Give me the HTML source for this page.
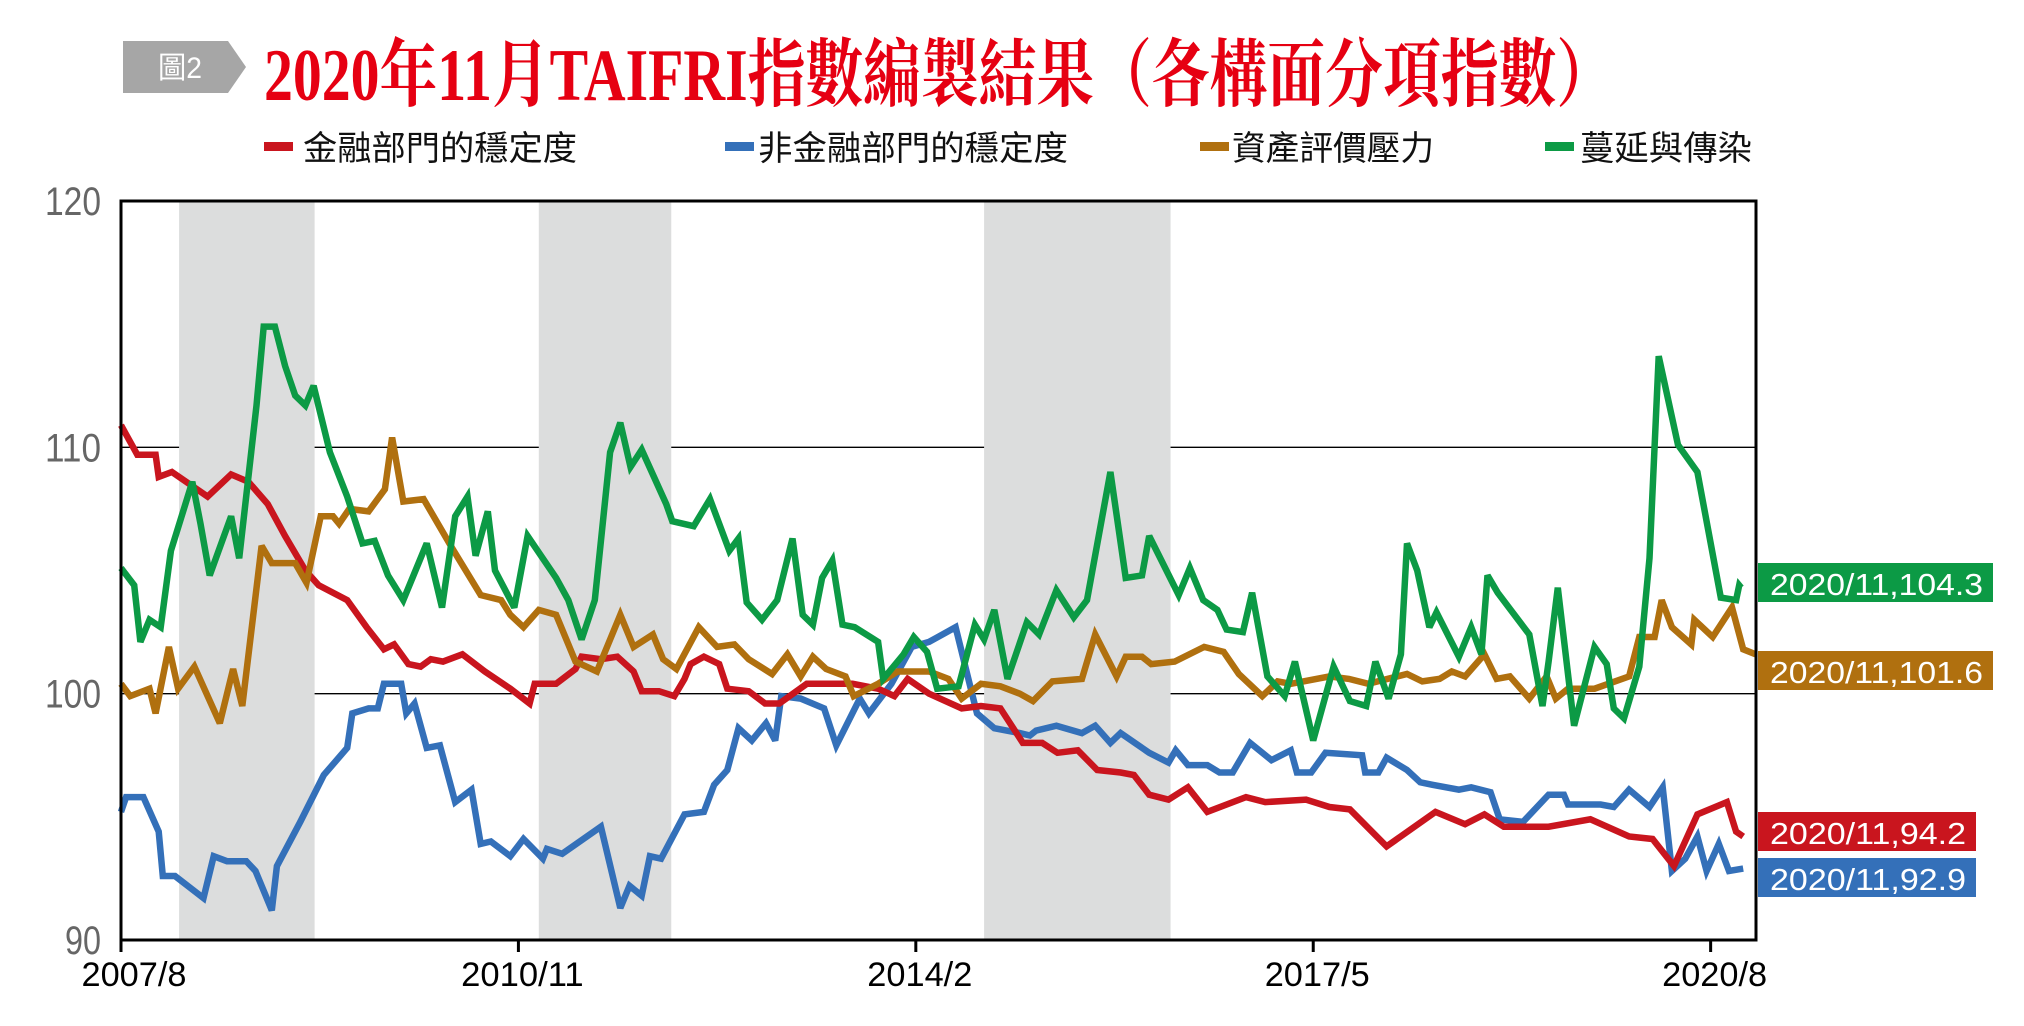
<!DOCTYPE html>
<html><head><meta charset="utf-8">
<style>
html,body{margin:0;padding:0;background:#fff;}
svg{display:block;}
</style></head>
<body>
<svg id="chart" width="2024" height="1026" viewBox="0 0 2024 1026" xmlns="http://www.w3.org/2000/svg">
  <g>
    <polygon points="123,41 228,41 246,67 228,93 123,93" fill="#a6a6a6"/>
    <text x="180" y="78" font-family="'Liberation Sans','Noto Sans CJK TC',sans-serif" font-size="30" fill="#fff" text-anchor="middle" textLength="44" lengthAdjust="spacingAndGlyphs">圖2</text>
  </g>
  <text x="264" y="100" font-family="'Liberation Serif','Noto Serif CJK SC',serif" font-weight="bold" font-size="74" fill="#e60012" textLength="1350" lengthAdjust="spacingAndGlyphs">2020年11月TAIFRI指數編製結果（各構面分項指數）</text>
  <g id="legend" font-family="'Liberation Sans','Noto Sans CJK TC',sans-serif" font-size="34" fill="#111"></g>
  <g id="plot"></g>
</svg>
<script>
const months = {
 red:[0,1.6,3.4,3.7,5,8.5,10.8,12.5,14.4,16.1,18.1,19.4,22.2,24.1,25.8,26.8,28.2,29.4,30.4,31.6,33.5,35.7,38.2,40.1,40.6,42.7,44.6,45.2,47.1,48.7,50.3,51.1,52.8,54.3,55.3,55.9,57.2,58.7,59.5,61.6,63.2,64.6,67.3,71.8,74.3,75.9,77.2,79.3,82.5,84.4,86.3,88.5,90.4,91.9,93.9,95.8,98.1,99.4,100.9,102.8,104.7,106.6,110.4,112.3,116.3,118.6,120.6,124.2,129,131.9,133.8,135.7,140.1,144.2,148,150.3,152.4,154.7,157.6,158.5,159.2],
 blue:[0,0.5,2.2,3.7,4.1,5.3,8.1,9.1,10.4,12.3,13.2,14.8,15.3,17.6,19.9,22.2,22.7,24.3,25.2,25.8,27.5,28,28.8,30,31.3,32.8,34.4,35.3,36.3,38.2,39.5,41.4,41.8,43.3,47.1,49,49.9,51.1,51.9,53,55.3,57.2,58.2,59.5,60.6,61.9,63.3,64.2,64.8,66.7,69,70.2,72.5,73.4,75.6,77.6,79.3,81.9,83.4,84,85.7,88.2,89.2,89.8,91.8,94.3,95.6,97.1,98.1,100.9,102.8,103.5,104.7,106.6,107.8,109.1,110.8,112.9,114.8,115.4,116.8,118.2,121.8,122.1,123.4,124.2,126.2,127.5,128.7,131.3,132.5,134.4,135.3,137.6,140.1,141.6,142,145.2,146.5,148,150,151.3,152.2,153.5,154.7,155.6,156.8,157.8,159.2],
 gold:[0,0.9,2.8,3.4,4.7,5.6,7.2,9.7,11,11.9,13.8,14.8,17.1,18.2,19.6,20.8,21.4,22.4,24.3,25.9,26.6,27.7,29.7,32.5,35.3,37.3,38.2,39.5,41,42.7,44.6,46.7,49,50.3,52.2,53.2,54.5,56.7,58.5,60.2,61.6,63.9,65.4,66.7,67.9,69.2,71.1,71.9,74.3,76.2,79.3,81.2,82.5,84.4,86.3,88.2,89.5,91.4,94.3,95.6,97.7,98.6,100.2,101.1,103.4,106.3,108.2,109.7,112,113.5,114.8,118.6,120.5,122.4,126.2,127.7,129.4,130.6,131.9,133.8,135,136.3,138.2,139.9,140.8,142,144.6,148,149,150.5,151.2,152.2,154.1,154.4,156.2,158.1,159.2,160.4],
 green:[0,1.3,1.9,2.8,3.9,4.9,7,7.8,8.7,10.8,11.6,13.3,14,15.1,16.1,17.1,18.1,18.9,20.5,22.2,23.7,24.9,26.2,27.7,30,31.5,32.8,34,34.8,36,36.7,38.6,39.9,42.7,43.9,45.2,46.5,48,49,50,51.1,53.5,54.1,56.2,57.8,59.7,60.6,61.4,62.9,64.4,65.9,66.9,67.9,68.8,69.8,70.8,72,74.3,74.8,76.8,77.8,79.1,80.1,82.2,83.8,84.7,85.7,87,88.9,90.1,91.8,93.5,94.8,97.1,98.6,100.2,100.9,103.8,104.9,106.2,107.6,108.5,110.1,111,112.5,114.2,115.2,117,119,120.6,122.2,123.1,124.4,125.6,126.2,127.2,128.4,129.1,131.3,132.5,133.5,134.1,135.1,138.2,139.5,140.1,141,142.6,144.6,145.8,146.5,147.5,149,150,150.9,152.8,154.7,157,158.5,158.8,159]
};
const redValues=[110.9,109.7,109.7,108.8,109,108,108.9,108.6,107.7,106.4,105,104.4,103.8,102.7,101.8,102,101.2,101.1,101.4,101.3,101.6,100.9,100.2,99.6,100.4,100.4,101,101.5,101.4,101.5,100.9,100.1,100.1,99.9,100.6,101.2,101.5,101.2,100.2,100.1,99.6,99.6,100.4,100.4,100.2,99.9,100.6,100,99.4,99.5,99.4,98,98,97.6,97.7,96.9,96.8,96.7,95.9,95.7,96.2,95.2,95.8,95.6,95.7,95.4,95.3,93.8,95.2,94.7,95.1,94.6,94.6,94.9,94.2,94.1,93,95.1,95.6,94.4,94.2];
const blueValues=[95.2,95.8,95.8,94.4,92.6,92.6,91.7,93.4,93.2,93.2,92.8,91.2,93,94.8,96.7,97.8,99.2,99.4,99.4,100.4,100.4,99.2,99.6,97.8,97.9,95.6,96.1,93.9,94,93.4,94.1,93.3,93.7,93.5,94.6,91.3,92.2,91.8,93.4,93.3,95.1,95.2,96.3,96.9,98.6,98.1,98.8,98.1,99.9,99.8,99.4,97.9,99.8,99.2,100.4,101.9,102.1,102.7,100.2,99.2,98.6,98.4,98.3,98.5,98.7,98.4,98.7,98,98.4,97.6,97.2,97.7,97.1,97.1,96.8,96.8,98,97.3,97.7,96.8,96.8,97.6,97.5,96.8,96.8,97.4,96.9,96.4,96.3,96.1,96.2,96,94.9,94.8,95.9,95.9,95.5,95.5,95.4,96.1,95.4,96.2,92.8,93.3,94.2,92.8,93.9,92.8,92.9];
const goldValues=[100.4,99.9,100.2,99.2,101.9,100.2,101.1,98.8,101,99.5,106,105.3,105.3,104.5,107.2,107.2,106.9,107.5,107.4,108.3,110.4,107.8,107.9,105.9,104,103.8,103.2,102.7,103.4,103.2,101.3,100.9,103.2,101.9,102.4,101.4,101,102.7,101.9,102,101.4,100.8,101.6,100.7,101.5,101,100.7,99.9,100.4,100.9,100.9,100.6,99.8,100.4,100.3,100,99.7,100.5,100.6,102.4,100.7,101.5,101.5,101.2,101.3,101.9,101.7,100.8,99.9,100.5,100.4,100.7,100.6,100.4,100.8,100.5,100.6,100.9,100.7,101.6,100.6,100.7,99.8,100.7,99.8,100.2,100.2,100.7,102.3,102.3,103.8,102.7,102,103,102.3,103.5,101.8,101.6];
const greenValues=[105.1,104.4,102.1,103,102.7,105.8,108.6,106.9,104.8,107.2,105.5,111.7,114.9,114.9,113.3,112.1,111.7,112.5,109.8,108,106.1,106.2,104.8,103.8,106.1,103.5,107.2,108,105.6,107.4,105,103.5,106.4,104.7,103.8,102.2,103.8,109.8,111,109.2,109.9,107.7,107,106.8,107.9,105.8,106.3,103.7,103,103.8,106.3,103.2,102.8,104.7,105.4,102.8,102.7,102.1,100.6,101.6,102.3,101.7,100.2,100.3,102.8,102.2,103.4,100.6,102.9,102.4,104.2,103.1,103.8,109,104.7,104.8,106.4,104,105.1,103.8,103.4,102.6,102.5,104.1,100.7,99.9,101.3,98.1,101.1,99.7,99.5,101.3,99.8,101.6,106.1,105,102.7,103.3,101.5,102.7,101.6,104.8,104.1,102.4,99.5,101.3,104.3,98.7,101.9,101.2,99.4,99,101.1,105.5,113.7,110.1,109,103.9,103.8,104.4,104.3];
const yTicks=[90,100,110,120];
const xTickMonths=[0,39,78,117,156];
const xTickLabels=["2007/8","2010/11","2014/2","2017/5","2020/8"];
const recessions=[[5.7,19],[41,54],[84.7,103]];
const seriesNames=["金融部門的穩定度","非金融部門的穩定度","資產評價壓力","蔓延與傳染"];
const endLabels=["2020/11,94.2","2020/11,92.9","2020/11,101.6","2020/11,104.3"];

const NS="http://www.w3.org/2000/svg";
const L=121,R=1756,T=201,B=940;
const X=m=>L+m*10.19;
const Y=v=>B-(v-90)*(B-T)/30;
function mk(tag,attrs,parent){const e=document.createElementNS(NS,tag);for(const k in attrs)e.setAttribute(k,attrs[k]);parent.appendChild(e);return e;}
const plot=document.getElementById('plot');
const font="'Liberation Sans','Noto Sans CJK TC',sans-serif";

[100,110].forEach(v=>{
  const g=mk('line',{x1:L,x2:R,y1:Y(v),y2:Y(v),stroke:'#000','stroke-width':1.3},plot);
  
  
});
recessions.forEach((r,i)=>{
  const b=mk('rect',{x:X(r[0]),y:T,width:X(r[1])-X(r[0]),height:B-T,fill:'#dcdddd'},plot);
  
  
});
yTicks.forEach(v=>{
  const t=mk('text',{x:101,y:Y(v)+14,'text-anchor':'end','font-family':font,'font-size':40,fill:'#666',textLength:(v>=100?56:36),lengthAdjust:'spacingAndGlyphs'},plot);
  t.textContent=v;
  
  
});
xTickMonths.forEach((m,i)=>{
  const tk=mk('line',{x1:X(m),x2:X(m),y1:B,y2:B+12,stroke:'#000','stroke-width':3},plot);
  
  
  const lab=xTickLabels[i];
  const cx=i===0?X(m)+13:X(m)+4;
  const t=mk('text',{x:cx,y:986,'text-anchor':'middle','font-family':font,'font-size':34,fill:'#000',textLength:lab.length*17.5,lengthAdjust:'spacingAndGlyphs'},plot);
  t.textContent=lab;
  
  
});
const colors=['#c9151e','#3470b9','#b0700f','#0c9a45'];
const seriesM=[months.red,months.blue,months.gold,months.green];
const seriesV=[redValues,blueValues,goldValues,greenValues];
const drawOrder=[1,0,2,3];
drawOrder.forEach(s=>{
  const d=seriesM[s].map((m,i)=>(i?'L':'M')+X(m).toFixed(1)+','+Y(seriesV[s][i]).toFixed(1)).join(' ');
  const p=mk('path',{d:d,fill:'none',stroke:colors[s],'stroke-width':6.5,'stroke-linejoin':'miter','stroke-miterlimit':3},plot);
  
  
});
const ax=mk('path',{d:`M${L},${T} L${R},${T} L${R},${B} L${L},${B} Z`,fill:'none',stroke:'#000','stroke-width':3},plot);


const boxY=[812,858,651,563];
const boxW=[218,218,235,235];
[3,2,0,1].forEach(s=>{
  const g=mk('g',{},plot);
  
  
  mk('rect',{x:1758,y:boxY[s],width:boxW[s],height:39,fill:colors[s]},g);
  const t=mk('text',{x:1770,y:boxY[s]+32,'font-family':font,'font-size':31,fill:'#fff',textLength:boxW[s]-22,lengthAdjust:'spacingAndGlyphs'},g);
  t.textContent=endLabels[s];
});
const leg=document.getElementById('legend');
const legMarkX=[264,725,1200,1545],legTextX=[303,758,1232,1580],legTextW=[274,310,202,172];
seriesNames.forEach((n,i)=>{
  const g=mk('g',{},leg);
  
  
  mk('rect',{x:legMarkX[i],y:142,width:29,height:9,fill:colors[i]},g);
  const t=mk('text',{x:legTextX[i],y:160,textLength:legTextW[i],lengthAdjust:'spacingAndGlyphs'},g);
  t.textContent=n;
});
</script>
</body></html>
